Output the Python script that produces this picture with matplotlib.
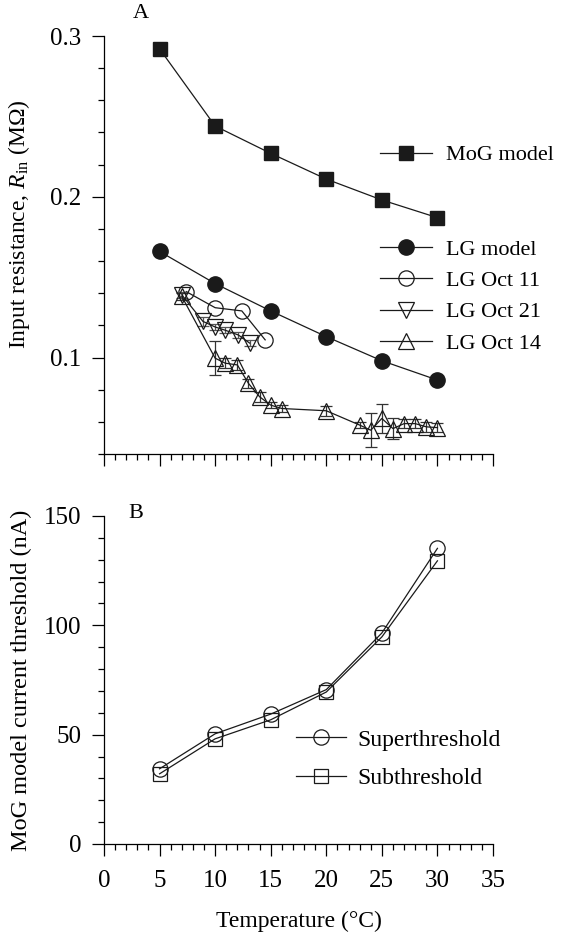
import matplotlib
matplotlib.use("Agg")
import matplotlib.pyplot as plt
from matplotlib.ticker import MultipleLocator

plt.rcParams['font.family'] = ['Liberation Serif', 'DejaVu Serif']
plt.rcParams['mathtext.fontset'] = 'custom'
plt.rcParams['mathtext.rm'] = 'Liberation Serif'
plt.rcParams['mathtext.it'] = 'Liberation Serif:italic'

# Panel A: input resistance (MOhm) vs temperature
model_temp = [5, 10, 15, 20, 25, 30]
mog_rin = [0.292, 0.244, 0.227, 0.211, 0.198, 0.187]
lg_rin = [0.166, 0.146, 0.129, 0.113, 0.098, 0.086]

oct11_temp = [7.4, 10.0, 12.4, 14.5]
oct11_rin = [0.141, 0.131, 0.129, 0.111]

oct21_temp = [7.0, 8.9, 10.0, 10.9, 12.1, 13.1]
oct21_rin = [0.139, 0.1225, 0.119, 0.117, 0.114, 0.109]
oct21_err = [0.002, 0.003, 0.002, 0.002, 0.002, 0.002]

oct14_temp = [7.0, 10.0, 10.9, 12.0, 13.0, 14.0, 15.0, 16.0, 20.0,
              23.0, 24.0, 25.0, 26.0, 27.0, 28.0, 29.0, 30.0]
oct14_rin = [0.138, 0.0996, 0.0965, 0.0954, 0.0839, 0.0756, 0.0704, 0.0683, 0.0669,
             0.058, 0.0548, 0.0621, 0.0558, 0.0589, 0.0589, 0.0569, 0.0564]
oct14_err = [0.002, 0.0106, 0.003, 0.003, 0.003, 0.003, 0.002, 0.002, 0.003,
             0.002, 0.0104, 0.0088, 0.0066, 0.003, 0.003, 0.003, 0.003]

# Panel B: MoG model current threshold (nA)
thr_temp = [5, 10, 15, 20, 25, 30]
supra_thr = [34.4, 50.4, 59.4, 70.6, 96.5, 135.2]
sub_thr = [32.1, 48.1, 56.8, 69.5, 94.7, 129.5]

W, H = 563, 935
fig = plt.figure(figsize=(W / 100, H / 100), dpi=100)
axA = fig.add_axes([104 / W, 1 - 454 / H, 389 / W, 418 / H])
axB = fig.add_axes([104 / W, 1 - 844 / H, 389 / W, 328 / H])

lc = '#1a1a1a'
lw = 0.9
fs = 16

for ax in (axA, axB):
    ax.spines['top'].set_visible(False)
    ax.spines['right'].set_visible(False)
    ax.spines['left'].set_linewidth(0.9)
    ax.spines['bottom'].set_linewidth(0.9)
    ax.set_xlim(0, 35)
    ax.xaxis.set_major_locator(MultipleLocator(5))
    ax.xaxis.set_minor_locator(MultipleLocator(1))
    ax.tick_params(which='major', direction='out', length=8.5, width=0.9, labelsize=18)
    ax.tick_params(which='minor', direction='out', length=4.3, width=0.9)
    ax.tick_params(axis='x', which='major', pad=10)
    ax.tick_params(axis='y', which='major', pad=8)

# ---- panel A
axA.plot(model_temp, mog_rin, '-s', color=lc, lw=lw, ms=10, mfc='#1a1a1a', mec='#1a1a1a',
         label='MoG model')
l1, = axA.plot(model_temp, lg_rin, '-o', color=lc, lw=lw, ms=11, mfc='#1a1a1a', mec='#1a1a1a',
               label='LG model')
l2, = axA.plot(oct11_temp, oct11_rin, '-o', color=lc, lw=lw, ms=11, mfc='none', mec=lc, mew=0.9,
               label='LG Oct 11')
e3 = axA.errorbar(oct21_temp, oct21_rin, yerr=oct21_err, fmt='-v', color=lc, lw=lw, ms=11.5,
                  mfc='none', mec=lc, mew=0.9, ecolor='#555555', elinewidth=0.9, capsize=4.5,
                  label='LG Oct 21')
e4 = axA.errorbar(oct14_temp, oct14_rin, yerr=oct14_err, fmt='-^', color=lc, lw=lw, ms=11.5,
                  mfc='none', mec=lc, mew=0.9, ecolor='#333333', elinewidth=0.9, capsize=4.5,
                  label='LG Oct 14')

axA.set_ylim(0.04, 0.3)
axA.yaxis.set_major_locator(MultipleLocator(0.1))
axA.yaxis.set_minor_locator(MultipleLocator(0.02))
axA.set_yticks([0.1, 0.2, 0.3])
axA.set_yticklabels(['0.1', '0.2', '0.3'])
axA.tick_params(axis='x', which='both', labelbottom=False)
axA.set_ylabel(r'Input resistance, $\mathit{R}_{\mathrm{in}}$ (M$\Omega$)', fontsize=fs + 1)
axA.yaxis.set_label_coords(-0.185, 0.55)

legA1 = axA.legend(handles=[axA.lines[0]], loc='center left',
                   bbox_to_anchor=(380 / W, 1 - 155 / H), bbox_transform=fig.transFigure,
                   frameon=False, fontsize=fs, handlelength=2.35, handletextpad=0.6,
                   borderpad=0, borderaxespad=0, numpoints=1)
axA.add_artist(legA1)
axA.legend(handles=[l1, l2, e3[0], e4[0]], labels=['LG model', 'LG Oct 11', 'LG Oct 21', 'LG Oct 14'],
           loc='center left', bbox_to_anchor=(380 / W, 1 - 296.5 / H),
           bbox_transform=fig.transFigure, frameon=False, fontsize=fs, handlelength=2.35,
           handletextpad=0.6, labelspacing=0.48, borderpad=0, borderaxespad=0, numpoints=1)

# ---- panel B
axB.plot(thr_temp, supra_thr, '-o', color=lc, lw=lw, ms=11, mfc='none', mec=lc, mew=0.9,
         label='Superthreshold')
axB.plot(thr_temp, sub_thr, '-s', color=lc, lw=lw, ms=10, mfc='none', mec=lc, mew=0.9,
         label='Subthreshold')
axB.set_ylim(0, 150)
axB.yaxis.set_major_locator(MultipleLocator(50))
axB.yaxis.set_minor_locator(MultipleLocator(10))
axB.set_xlabel('Temperature (°C)', fontsize=fs + 1, labelpad=14)
axB.set_ylabel('MoG model current threshold (nA)', fontsize=fs + 1.5)
axB.yaxis.set_label_coords(-0.185, 0.5)
axB.legend(loc='center left', bbox_to_anchor=(296 / W, 1 - 759 / H),
           bbox_transform=fig.transFigure, frameon=False, fontsize=fs + 1, handlelength=2.1,
           handletextpad=0.5, labelspacing=0.7, borderpad=0, borderaxespad=0, numpoints=1)

fig.text(141 / W, 1 - 13 / H, 'A', fontsize=fs, ha='center', va='center')
fig.text(136 / W, 1 - 513 / H, 'B', fontsize=fs, ha='center', va='center')

fig.savefig('out.png', dpi=100)
